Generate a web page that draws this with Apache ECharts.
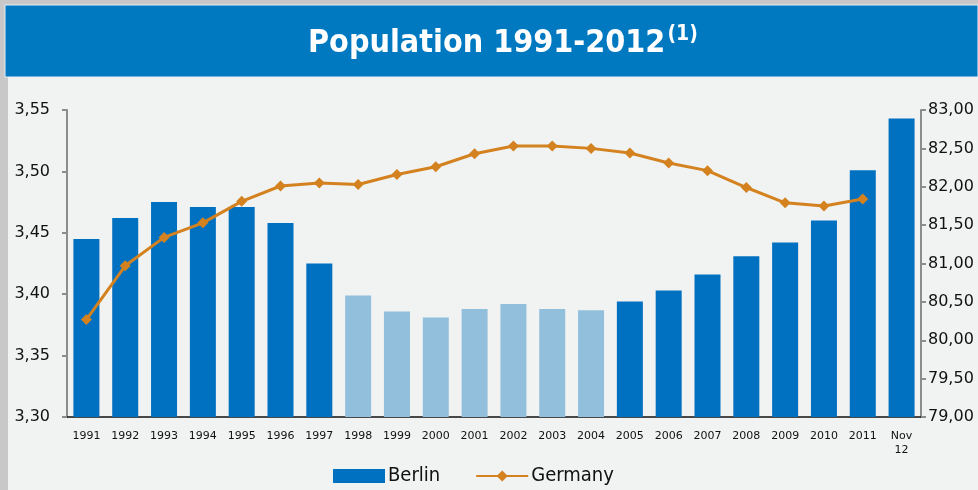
<!DOCTYPE html>
<html>
<head>
<meta charset="utf-8">
<script src="https://cdn.jsdelivr.net/npm/echarts@6/dist/echarts.min.js"></script>
<style>
  html, body { margin: 0; padding: 0; background: #f1f2f2; }
  #chart { width: 978px; height: 490px; }
</style>
</head>
<body>
<div id="chart"></div>
<script>
// Categories (years, last one is November 2012)
const categories = ['1991','1992','1993','1994','1995','1996','1997','1998','1999','2000',
  '2001','2002','2003','2004','2005','2006','2007','2008','2009','2010','2011','Nov\n12'];

// Berlin population, millions
const berlin = [3.445, 3.462, 3.475, 3.471, 3.471, 3.458, 3.425, 3.399, 3.386, 3.381,
  3.388, 3.392, 3.388, 3.387, 3.394, 3.403, 3.416, 3.431, 3.442, 3.460, 3.501, 3.543];

// Germany population, millions (no value for Nov 12)
const germany = [80.27, 80.97, 81.34, 81.53, 81.81, 82.01, 82.05, 82.03, 82.16, 82.26,
  82.43, 82.53, 82.53, 82.50, 82.44, 82.31, 82.21, 81.99, 81.79, 81.75, 81.84, null];

// Years with the shrinking-population period shown in a lighter tone
const lightYears = ['1998','1999','2000','2001','2002','2003','2004'];

const DARK = '#0070c0';
const LIGHT = '#92bfdb';
const ORANGE = '#d4821f';
const FONT = 'DejaVu Sans';
const FONT_C = '"DejaVu Sans Condensed", "DejaVu Sans"';

const fmt = v => Number(v).toFixed(2).replace('.', ',');

const chart = echarts.init(document.getElementById('chart'));
chart.setOption({
  backgroundColor: '#f1f2f2',
  animation: false,
  graphic: [
    { type: 'rect', shape: { x: 0, y: 0, width: 978, height: 5 }, style: { fill: '#c8c8c8' }, z: -1 },
    { type: 'rect', shape: { x: 0, y: 0, width: 8, height: 490 }, style: { fill: '#c8c8c8' }, z: -1 },
    { type: 'rect', shape: { x: 5, y: 5, width: 973, height: 72 }, style: { fill: '#0079c1', stroke: '#e8f0f6', lineWidth: 1 }, z: 0 }
  ],
  title: {
    text: '{a|Population 1991-2012}{b|(1)}',
    left: 303,
    top: 19,
    textStyle: {
      rich: {
        a: { color: '#fff', fontSize: 32, fontWeight: 'bold', fontFamily: FONT_C, lineHeight: 40 },
        b: { color: '#fff', fontSize: 21, fontWeight: 'bold', fontFamily: FONT_C, verticalAlign: 'top', lineHeight: 40, padding: [0, 0, 12, 2] }
      }
    },
    z: 5
  },
  legend: {
    left: 328,
    top: 461,
    itemWidth: 52,
    itemHeight: 14,
    itemGap: 35,
    textStyle: { fontFamily: FONT_C, fontSize: 20, color: '#111', padding: [0, 0, 0, -2] },
    data: [
      { name: 'Berlin', icon: 'rect' },
      { name: 'Germany' }
    ]
  },
  grid: { left: 67, right: 57, top: 110, bottom: 73, containLabel: false },
  xAxis: {
    type: 'category',
    data: categories,
    axisLine: { lineStyle: { color: '#111', width: 1.5 } },
    axisTick: { show: false },
    axisLabel: { fontFamily: FONT, fontSize: 11, color: '#111', margin: 12, interval: 0, lineHeight: 14 }
  },
  yAxis: [
    {
      type: 'value',
      min: 3.30, max: 3.55, interval: 0.05,
      position: 'left',
      splitLine: { show: false },
      axisLine: { show: true, lineStyle: { color: '#8c8c8c', width: 2 } },
      axisTick: { show: true, length: 5, lineStyle: { color: '#8c8c8c', width: 2 } },
      axisLabel: { fontFamily: FONT, fontSize: 16, color: '#111', margin: 17, formatter: fmt }
    },
    {
      type: 'value',
      min: 79, max: 83, interval: 0.5,
      position: 'right',
      splitLine: { show: false },
      axisLine: { show: true, lineStyle: { color: '#8c8c8c', width: 2 } },
      axisTick: { show: true, length: 5, lineStyle: { color: '#8c8c8c', width: 2 } },
      axisLabel: { fontFamily: FONT, fontSize: 16, color: '#111', margin: 7, formatter: fmt }
    }
  ],
  series: [
    {
      name: 'Berlin',
      type: 'bar',
      yAxisIndex: 0,
      barWidth: 26,
      itemStyle: { color: DARK },
      data: berlin.map((v, i) => ({
        value: v,
        itemStyle: { color: lightYears.includes(categories[i]) ? LIGHT : DARK }
      }))
    },
    {
      name: 'Germany',
      type: 'line',
      yAxisIndex: 1,
      data: germany,
      symbol: 'diamond',
      symbolSize: 11,
      lineStyle: { color: ORANGE, width: 3 },
      itemStyle: { color: ORANGE },
      z: 3
    }
  ]
});
</script>
</body>
</html>
